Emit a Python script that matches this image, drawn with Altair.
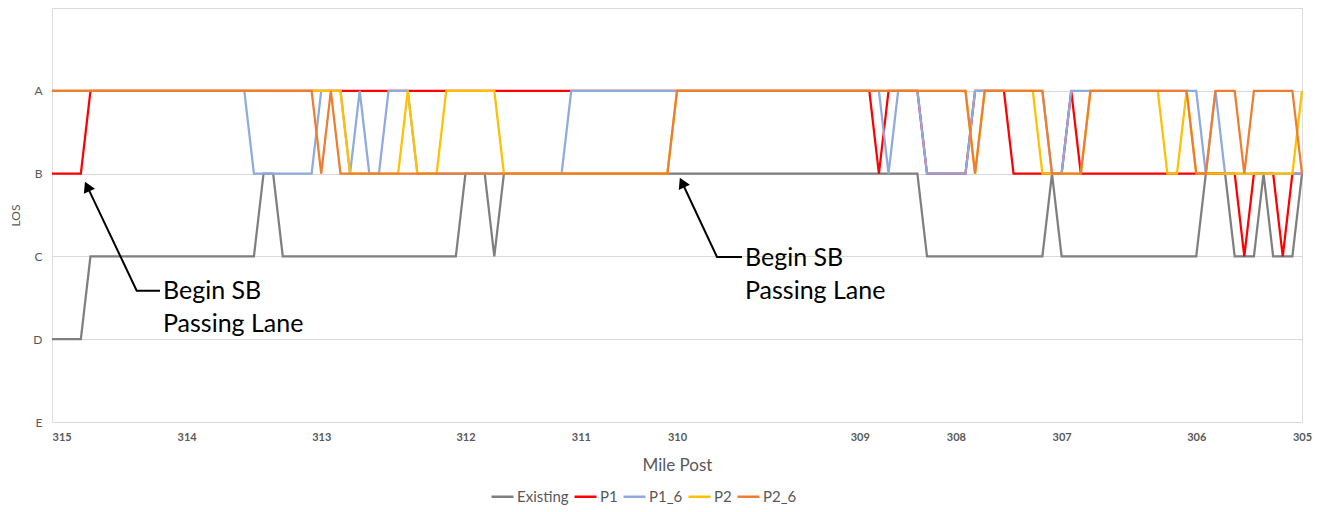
import altair as alt
import pandas as pd

# ---------------- data ----------------
series_names = ["Existing", "P1", "P1_6", "P2", "P2_6"]
series_colors = ["#7f7f7f", "#ff0000", "#8faadc", "#ffc000", "#ed7d31"]
los_letters = ["E", "D", "C", "B", "A"]  # level 0..4

# LOS per road segment (131 segments, from MP 315 to MP 305), one letter per segment
existing_los = ("DDDDCCCCCC" "CCCCCCCCCC" "CCBBCCCCCC" "CCCCCCCCCC" "CCCBBBCBBB"
                "BBBBBBBBBB" "BBBBBBBBBB" "BBBBBBBBBB" "BBBBBBBBBB" "BCCCCCCCCC"
                "CCCCBCCCCC" "CCCCCCCCCC" "BBBCCCBCCC" "B")
p1_los = ("BBBBAAAAAA" "AAAAAAAAAA" "AAAAAAAAAA" "AAAAAAAAAA" "AAAAAAAAAA"
          "AAAAAAAAAA" "AAAAAAAAAA" "AAAAAAAAAA" "AAAAAABAAA" "ABBBBBAAAA"
          "BBBBBBABBB" "BBBBBBBBBB" "BBBBCBBBCB" "B")
p1_6_los = ("AAAAAAAAAA" "AAAAAAAAAA" "ABBBBBBBAA" "ABABBAAABB" "BBBBBBBBBB"
            "BBBBAAAAAA" "AAAAAAAAAA" "AAAAAAAAAA" "AAAAAAABAA" "ABBBBBAAAA"
            "AAAABBAAAA" "AAAAAAAAAA" "BABBBBBBBB" "B")
p2_los = ("AAAAAAAAAA" "AAAAAAAAAA" "AAAAAAAAAA" "ABBBBBBABB" "BAAAAAABBB"
          "BBBBBBBBBB" "BBBBBAAAAA" "AAAAAAAAAA" "AAAAAAAAAA" "AAAAAABAAA"
          "AAABBBBBAA" "AAAAAABBAB" "BBBBBBBBBB" "A")
p2_6_los = ("AAAAAAAAAA" "AAAAAAAAAA" "AAAAAAAABA" "BBBBBBBBBB" "BBBBBBBBBB"
            "BBBBBBBBBB" "BBBBBAAAAA" "AAAAAAAAAA" "AAAAAAAAAA" "AAAAAABAAA"
            "AAAABBBBAA" "AAAAAAAAAB" "BAAABAAAAA" "B")

tick_index = [0, 14, 28, 43, 55, 65, 84, 94, 105, 119, 130]
tick_labels = ["315", "314", "313", "312", "311", "310", "309", "308", "307", "306", "305"]

y_levels = [0, 1, 2, 3, 4, 5]
y_labels = ["E", "D", "C", "B", "A", ""]

# annotations (in data units: segment index, LOS level)
arrow_group = ["a1", "a1", "a1", "a2", "a2", "a2"]
arrow_order = [0, 1, 2, 0, 1, 2]
arrow_idx = [11.23, 8.81, 3.66, 71.76, 69.16, 65.53]
arrow_level = [1.586, 1.586, 2.845, 1.993, 1.993, 2.892]
head_idx = [3.66, 65.53]
head_level = [2.845, 2.892]
note_text = ["Begin SB", "Passing Lane", "Begin SB", "Passing Lane"]
note_idx = [11.54, 11.54, 72.07, 72.07]
note_level = [1.486, 1.087, 1.884, 1.486]

# ---------------- build tables ----------------
all_series = [existing_los, p1_los, p1_6_los, p2_los, p2_6_los]
rows = []
for name, letters in zip(series_names, all_series):
    for i, ch in enumerate(letters):
        rows.append({"idx": i, "series": name, "level": los_letters.index(ch)})
df = pd.DataFrame(rows)

arrows = pd.DataFrame({"g": arrow_group, "o": arrow_order, "idx": arrow_idx, "level": arrow_level})
heads = pd.DataFrame({"idx": head_idx, "level": head_level})
notes = pd.DataFrame({"text": note_text, "idx": note_idx, "level": note_level})


def ternary(vals, labels):
    expr = "''"
    for v, l in reversed(list(zip(vals, labels))):
        expr = f"datum.value == {v} ? '{l}' : ({expr})"
    return expr


FONT = "Lato"
TXT = "#595959"

x_scale = alt.Scale(domain=[0, 130], nice=False, zero=False)
y_scale = alt.Scale(domain=[0, 5], nice=False, zero=True)

x_enc = alt.X("idx:Q", scale=x_scale, axis=alt.Axis(
    values=tick_index, labelExpr=ternary(tick_index, tick_labels),
    grid=False, ticks=False, domain=False, labelPadding=9,
    labelFlush=False, labelAlign=alt.expr(f"datum.value == {tick_index[0]} ? 'left' : 'center'"),
    labelFont=FONT, labelFontSize=11, labelFontWeight="bold", labelColor=TXT,
    title="Mile Post", titleFont=FONT, titleFontSize=17, titleFontWeight="normal",
    titleColor=TXT, titlePadding=15))
y_enc = alt.Y("level:Q", scale=y_scale, axis=alt.Axis(
    values=y_levels, labelExpr=ternary(y_levels, y_labels),
    grid=True, gridColor="#d9d9d9", gridWidth=1, ticks=False, domain=False,
    labelPadding=10, labelFont=FONT, labelFontSize=12, labelColor=TXT,
    title="LOS", titleFont=FONT, titleFontSize=12, titleFontWeight="normal",
    titleColor=TXT, titlePadding=10))

color_enc = alt.Color("series:N", scale=alt.Scale(domain=series_names, range=series_colors),
                      legend=alt.Legend(title=None, orient="none", direction="horizontal",
                                        legendX=438, legendY=476,
                                        symbolType="stroke", symbolSize=484,
                                        symbolStrokeWidth=2.5, labelFont=FONT,
                                        labelFontSize=15, labelColor=TXT,
                                        labelOffset=2, columnPadding=0))

base = alt.Chart(df)
line_layers = []
for name in series_names:
    line_layers.append(
        base.transform_filter(alt.datum.series == name)
        .mark_line(strokeWidth=2.25, interpolate="linear")
        .encode(x=x_enc, y=y_enc, color=color_enc)
    )

arrow_lines = alt.Chart(arrows).mark_line(color="black", strokeWidth=2).encode(
    x="idx:Q", y="level:Q", detail="g:N", order="o:Q")
arrow_heads = alt.Chart(heads).mark_point(shape="triangle-up", filled=True, color="black",
                                          size=150, angle=335, opacity=1).encode(
    x="idx:Q", y="level:Q")
note_marks = alt.Chart(notes).mark_text(align="left", baseline="alphabetic", font=FONT,
                                        fontSize=25, color="black").encode(
    x="idx:Q", y="level:Q", text="text:N")

chart = alt.layer(*line_layers, arrow_lines, arrow_heads, note_marks).properties(
    width=1250, height=414,
    autosize=alt.AutoSizeParams(type="none"),
    padding={"left": 44, "top": 0, "right": 12, "bottom": 90},
).configure_view(stroke=None).configure(background="white")

chart.save("out.html", embed_options={"renderer": "svg", "actions": False})
